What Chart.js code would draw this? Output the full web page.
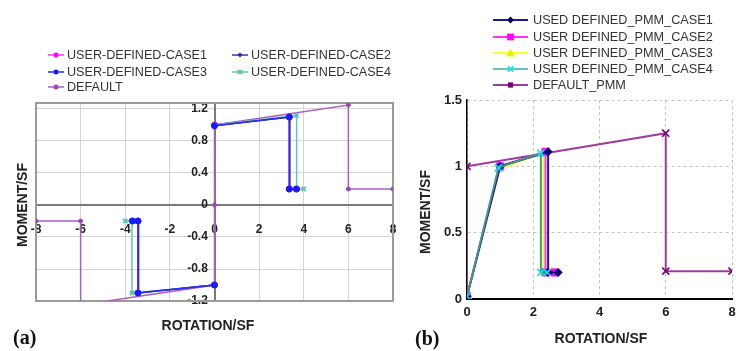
<!DOCTYPE html>
<html><head><meta charset="utf-8">
<script src="https://cdn.jsdelivr.net/npm/chart.js@4.4.0/dist/chart.umd.min.js"></script>
<style>
html,body{margin:0;padding:0;background:#fff;}
#wrap{position:relative;width:736px;height:351px;overflow:hidden;font-family:"Liberation Sans",Arial,sans-serif;}
canvas{position:absolute;top:0;}
.t{position:absolute;white-space:nowrap;color:#222;font-weight:bold;font-size:14px;line-height:14px;transform:translate(-50%,-50%);}
.tr{transform:translate(-50%,-50%) rotate(-90deg);}
.pl{position:absolute;white-space:nowrap;color:#111;font-weight:bold;font-size:20px;line-height:20px;font-family:"Liberation Serif","Times New Roman",serif;transform:translateY(-50%);}
.leg{position:absolute;white-space:nowrap;color:#333;display:flex;align-items:center;transform:translateY(-50%);}
.leg svg{display:block;}
</style></head><body><div id="wrap">
<canvas id="ca" width="400" height="351" style="left:0;width:400px;height:351px"></canvas>
<canvas id="cb" width="336" height="351" style="left:400px;width:336px;height:351px"></canvas>
</div>
<script>
// ---------- DATA: chart (a) ----------
const aNames = ['USER-DEFINED-CASE1','USER-DEFINED-CASE2','USER-DEFINED-CASE3','USER-DEFINED-CASE4','DEFAULT'];
const aCase1X = [-3.68,-3.43,-3.43,0,null,0,3.35,3.35,3.66];
const aCase1Y = [-0.2,-0.2,-1.1,-1.0,null,1.0,1.1,0.2,0.2];
const aCase2X = [-3.66,-3.4,-3.4,0,null,0,3.38,3.38,3.66];
const aCase2Y = [-0.2,-0.2,-1.1,-1.0,null,0.99,1.1,0.2,0.2];
const aCase3X = [-3.68,-3.43,-3.43,0,null,0,3.35,3.35,3.68];
const aCase3Y = [-0.2,-0.2,-1.1,-1.0,null,0.99,1.1,0.2,0.2];
const aCase4X = [-4.0,-3.7,-3.7,0,null,0,3.68,3.68,4.0];
const aCase4Y = [-0.2,-0.2,-1.1,-1.0,null,1.0,1.12,0.2,0.2];
const aDefX = [-8,-6,-6,0,0,0,6,6,8];
const aDefY = [-0.2,-0.2,-1.25,-1.0,0,1.0,1.25,0.2,0.2];
const aXTicks = [-8,-6,-4,-2,0,2,4,6,8];
const aYTicks = [-1.2,-0.8,-0.4,0,0.4,0.8,1.2];

// ---------- DATA: chart (b) ----------
const bNames = ['USED DEFINED_PMM_CASE1','USER DEFINED_PMM_CASE2','USER DEFINED_PMM_CASE3','USER DEFINED_PMM_CASE4','DEFAULT_PMM'];
const bCase1X = [0,1.0,2.45,2.45,2.75];
const bCase1Y = [0.02,1.0,1.11,0.2,0.2];
const bCase2X = [0,1.0,2.37,2.37,2.65];
const bCase2Y = [0.02,1.0,1.11,0.2,0.2];
const bCase3X = [0,0.97,2.3,2.3,2.55];
const bCase3Y = [0.02,0.98,1.1,0.2,0.2];
const bCase4X = [0,0.95,2.23,2.23,2.42];
const bCase4Y = [0.02,0.99,1.1,0.2,0.2];
const bDefX = [0,0,6,6,8];
const bDefY = [0.02,1.0,1.25,0.21,0.21];
const bXTicks = [0,2,4,6,8];
const bYTicks = [0,0.5,1,1.5];

// ---------- styles ----------
const FONT = "'Liberation Sans', Arial, sans-serif";
Chart.defaults.font.family = FONT;
const aStyle = [
  {line:'#ff30ff', pt:'#ff00ff', shape:'circle', r:3, order:3},
  {line:'#3a3a98', pt:'#2a2a90', shape:'rectRot', r:2.5, order:1},
  {line:'#2a2aff', pt:'#1a1aff', shape:'circle', r:3, order:0},
  {line:'#66c4b4', pt:'#50c0b0', shape:'crossRot', r:3, order:2},
  {line:'#a860c0', pt:'#9a48b4', shape:'circle', r:2, order:4}
];
const bStyle = [
  {line:'#1a1a8a', pt:'#000070', shape:'rectRot', r:4, order:1},
  {line:'#ff30ff', pt:'#ff00ff', shape:'rect', r:5, order:2},
  {line:'#ffff30', pt:'#f0f000', shape:'triangle', r:5, order:3},
  {line:'#3f9c8c', pt:'#00e8f0', shape:'crossRot', r:5, order:0},
  {line:'#9c3c9c', pt:'#7a007a', shape:'crossRot', r:5, order:4}
];
const bLegendLine = ['#1a1a8a','#ff30ff','#ffff30','#60c4c4','#9c3c9c'];

function pts(xs, ys){ return xs.map((x,i)=>({x:x, y:ys[i]})); }

const aData = [pts(aCase1X,aCase1Y),pts(aCase2X,aCase2Y),pts(aCase3X,aCase3Y),pts(aCase4X,aCase4Y),pts(aDefX,aDefY)];
const bData = [pts(bCase1X,bCase1Y),pts(bCase2X,bCase2Y),pts(bCase3X,bCase3Y),pts(bCase4X,bCase4Y),pts(bDefX,bDefY)];

function mkSets(names, data, style, lw){
  return names.map((n,i)=>({
    label:n, data:data[i], showLine:true, spanGaps:false, tension:0, order:style[i].order,
    borderColor:style[i].line, borderWidth:lw,
    pointStyle:style[i].shape, pointRadius:style[i].r,
    pointBackgroundColor:style[i].pt, pointBorderColor:style[i].pt,
    pointBorderWidth: style[i].shape==='crossRot'?1.6:1
  }));
}
const fmt = v => { const r = Math.round(v*10)/10; return (Math.abs(r)<1e-9 ? 0 : r).toString(); };
const noPad = s => { s.paddingLeft = 0; s.paddingRight = 0; s.paddingTop = 0; s.paddingBottom = 0; };

const framePlugin = {
  id:'frame',
  beforeDatasetsDraw(chart){
    const a = chart.chartArea, c = chart.ctx;
    c.save(); c.strokeStyle = '#9a9a9a'; c.lineWidth = 2;
    c.strokeRect(a.left, a.top, a.right-a.left, a.bottom-a.top);
    c.restore();
  }
};

// ---------- chart (a) ----------
new Chart(document.getElementById('ca'), {
  type:'scatter',
  data:{datasets: mkSets(aNames, aData, aStyle, 1.5)},
  options:{
    responsive:false, animation:false, events:[],
    layout:{autoPadding:false, padding:{left:36,right:7,top:103,bottom:50}},
    plugins:{legend:{display:false}, tooltip:{enabled:false}},
    scales:{
      x:{type:'linear', min:-8, max:8, position:{y:0},
         afterFit:s=>{ noPad(s); s.height = 0; },
         afterBuildTicks:s=>{ s.ticks = aXTicks.map(v=>({value:v})); },
         ticks:{padding:17, color:'#222', font:{family:FONT,size:12,weight:'bold'}, callback:v=>fmt(v), maxRotation:0, autoSkip:false},
         grid:{color:'#d4d4d4', lineWidth:1, drawTicks:false},
         border:{display:true, color:'#7a7a7a', width:2}},
      y:{type:'linear', min:-1.2, max:1.275, position:{x:0},
         afterFit:s=>{ noPad(s); s.width = 0; },
         afterBuildTicks:s=>{ s.ticks = aYTicks.map(v=>({value:v})); },
         ticks:{padding:7, color:'#222', font:{family:FONT,size:12,weight:'bold'}, callback:v=>fmt(v)+'  ', autoSkip:false},
         grid:{color:'#d4d4d4', lineWidth:1, drawTicks:false},
         border:{display:true, color:'#7a7a7a', width:2}}
    }
  },
  plugins:[framePlugin]
});

// ---------- chart (b) ----------
new Chart(document.getElementById('cb'), {
  type:'scatter',
  data:{datasets: mkSets(bNames, bData, bStyle, 2)},
  options:{
    responsive:false, animation:false, events:[],
    layout:{autoPadding:false, padding:{left:0,right:4,top:100,bottom:0}},
    plugins:{legend:{display:false}, tooltip:{enabled:false}},
    scales:{
      x:{type:'linear', min:0, max:8, position:'bottom',
         afterFit:s=>{ noPad(s); s.height = 52; },
         afterBuildTicks:s=>{ s.ticks = bXTicks.map(v=>({value:v})); },
         ticks:{padding:6, color:'#222', font:{family:FONT,size:13,weight:'bold'}, callback:v=>fmt(v), maxRotation:0, autoSkip:false},
         grid:{color:'#c4c4c4', lineWidth:1, drawTicks:false},
         border:{display:true, color:'#000', width:2, dash:[3,3]}},
      y:{type:'linear', min:0, max:1.5, position:'left',
         afterFit:s=>{ noPad(s); s.width = 67; },
         afterBuildTicks:s=>{ s.ticks = bYTicks.map(v=>({value:v})); },
         ticks:{padding:5, color:'#222', font:{family:FONT,size:13,weight:'bold'}, callback:v=>fmt(v), autoSkip:false},
         grid:{color:'#c4c4c4', lineWidth:1, drawTicks:false},
         border:{display:true, color:'#000', width:1.5, dash:[3,3]}}
    }
  }
});

// ---------- HTML text: titles, panel labels, legends ----------
const wrap = document.getElementById('wrap');
function addDiv(cls, html, css){ const d=document.createElement('div'); d.className=cls; d.innerHTML=html; Object.assign(d.style, css); wrap.appendChild(d); return d; }

addDiv('t tr','MOMENT/SF',{left:'22px',top:'205px'});
addDiv('t','ROTATION/SF',{left:'208px',top:'325px'});
addDiv('pl','(a)',{left:'13px',top:'337px'});
addDiv('t tr','MOMENT/SF',{left:'425px',top:'212px'});
addDiv('t','ROTATION/SF',{left:'601px',top:'338px'});
addDiv('pl','(b)',{left:'415px',top:'338px'});

function markerSvg(shape, cx, cy, r, col){
  switch(shape){
    case 'circle': return `<circle cx="${cx}" cy="${cy}" r="${r}" fill="${col}"/>`;
    case 'rect': return `<rect x="${cx-r*0.75}" y="${cy-r*0.75}" width="${r*1.5}" height="${r*1.5}" fill="${col}"/>`;
    case 'rectRot': return `<polygon points="${cx},${cy-r} ${cx+r},${cy} ${cx},${cy+r} ${cx-r},${cy}" fill="${col}"/>`;
    case 'triangle': return `<polygon points="${cx},${cy-r} ${cx+r},${cy+r*0.75} ${cx-r},${cy+r*0.75}" fill="${col}"/>`;
    case 'crossRot': return `<path d="M${cx-r*0.7} ${cy-r*0.7}L${cx+r*0.7} ${cy+r*0.7}M${cx+r*0.7} ${cy-r*0.7}L${cx-r*0.7} ${cy+r*0.7}" stroke="${col}" stroke-width="1.6"/>`;
  }
  return '';
}
function legendItem(name, st, x, y, w, lw, r, fontSize, gap){
  const h = 12;
  const svg = `<svg width="${w}" height="${h}"><line x1="0" y1="${h/2}" x2="${w}" y2="${h/2}" stroke="${st.line}" stroke-width="${lw}"/>${markerSvg(st.shape, w/2, h/2, r, st.pt)}</svg>`;
  addDiv('leg', svg + `<span style="margin-left:${gap}px;font-size:${fontSize}px">${name}</span>`, {left:x+'px', top:y+'px'});
}
const aLegPos = [[48,55],[232,55],[48,72],[232,72],[48,87]];
aNames.forEach((n,i)=>legendItem(n, aStyle[i], aLegPos[i][0], aLegPos[i][1], 16, 1.5, i===3?3:2.5, 12.6, 3));
const bLegTop = [20,37,53,69,85];
const bLegR = [3.5,4.5,4.5,4,3.5];
bNames.forEach((n,i)=>{
  const st = Object.assign({}, bStyle[i], {line:bLegendLine[i]}, i===4 ? {shape:'rect'} : {});
  legendItem(n, st, 493, bLegTop[i], 35, 2, bLegR[i], 12.7, 5);
});
</script>
</body></html>
